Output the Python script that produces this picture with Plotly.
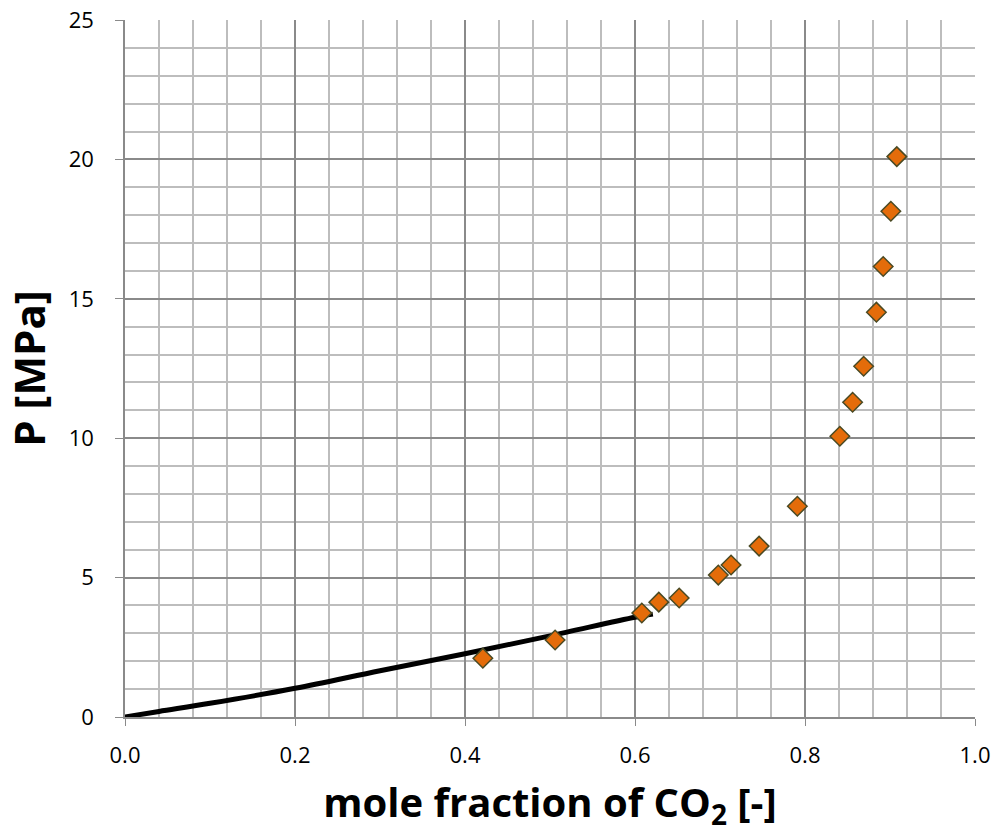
import plotly.graph_objects as go

# measured data (diamonds)
x_meas = [0.421, 0.506, 0.608, 0.628, 0.652, 0.698, 0.713, 0.746, 0.791,
          0.841, 0.856, 0.869, 0.884, 0.892, 0.901, 0.908]
p_meas = [2.11, 2.76, 3.73, 4.12, 4.27, 5.09, 5.45, 6.13, 7.56,
          10.07, 11.29, 12.58, 14.52, 16.16, 18.14, 20.10]

# model curve
x_model = [0.0, 0.04, 0.1, 0.2, 0.3, 0.4, 0.5, 0.6, 0.621]
p_model = [0.0, 0.20, 0.49, 1.03, 1.66, 2.27, 2.91, 3.58, 3.69]

x_ticks = [0.0, 0.2, 0.4, 0.6, 0.8, 1.0]
y_ticks = [0, 5, 10, 15, 20, 25]

FONT = "Open Sans"

fig = go.Figure()
fig.add_trace(go.Scatter(x=x_model, y=p_model, mode="lines",
                         line=dict(color="black", width=5, shape="spline"),
                         showlegend=False))
fig.add_trace(go.Scatter(x=x_meas, y=p_meas, mode="markers",
                         marker=dict(symbol="diamond", size=15, color="#E46C0A",
                                     line=dict(color="#4A4A24", width=1.5)),
                         showlegend=False))

fig.update_layout(
    width=993, height=833,
    margin=dict(l=125, r=18, t=20, b=116, autoexpand=False),
    paper_bgcolor="white", plot_bgcolor="white",
    font=dict(family=FONT, color="black"),
    xaxis=dict(range=[0, 1], tickvals=x_ticks, ticktext=[f"{v:.1f}" for v in x_ticks],
               showgrid=True, gridcolor="#8a8a8a", gridwidth=1.5,
               minor=dict(dtick=0.04, showgrid=True, gridcolor="#bdbdbd", gridwidth=1.5),
               showline=True, linecolor="#8a8a8a", linewidth=1.5, mirror=False,
               ticks="outside", ticklen=7, tickcolor="#8a8a8a",
               tickfont=dict(size=22, family=FONT), zeroline=False,
               ticklabelstandoff=11,
               title=dict(text="<b>mole fraction of CO<sub>2</sub> [-]</b>",
                          font=dict(size=40, family=FONT), standoff=22)),
    yaxis=dict(range=[0, 25], tickvals=y_ticks,
               showgrid=True, gridcolor="#8a8a8a", gridwidth=1.5,
               minor=dict(dtick=1, showgrid=True, gridcolor="#bdbdbd", gridwidth=1.5),
               showline=True, linecolor="#8a8a8a", linewidth=1.5,
               ticks="outside", ticklen=8, tickcolor="#8a8a8a",
               tickfont=dict(size=22, family=FONT), zeroline=False,
               ticklabelstandoff=17,
               title=dict(text="<b>P [MPa]</b>", font=dict(size=42, family=FONT), standoff=10)),
)

fig.write_html("out.html")
